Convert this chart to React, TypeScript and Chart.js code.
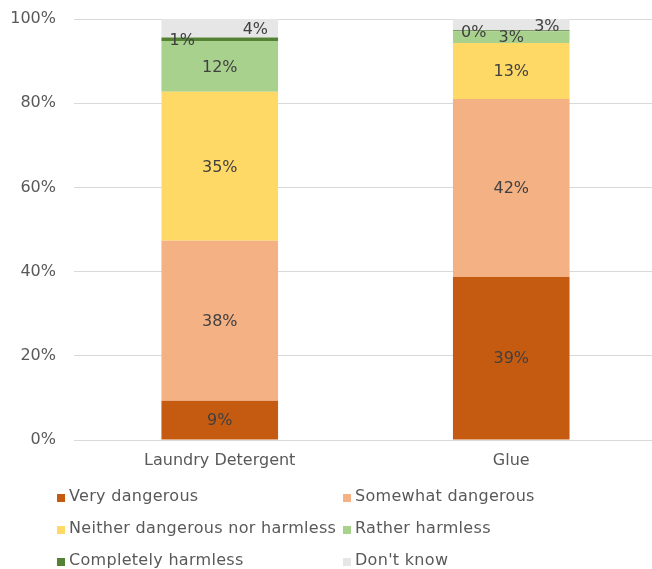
import React, { useEffect, useRef } from "react";
import { Chart, registerables } from "chart.js";

Chart.register(...registerables);

const categories = ["Laundry Detergent", "Glue"];
const seriesNames = [
  "Very dangerous",
  "Somewhat dangerous",
  "Neither dangerous nor harmless",
  "Rather harmless",
  "Completely harmless",
  "Don't know",
];
const veryDangerous = [9.3, 38.7];
const somewhatDangerous = [38.0, 42.3];
const neitherDangerousNorHarmless = [35.4, 13.3];
const ratherHarmless = [12.1, 2.8];
const completelyHarmless = [0.8, 0.2];
const dontKnow = [4.4, 2.7];
const yTickValues = [0, 20, 40, 60, 80, 100];

const seriesColors = ["#C55A11", "#F4B183", "#FFD966", "#A9D18E", "#548235", "#E7E6E6"];
const labelAlign = ["center", "center", "center", "center", "left", "right"];

const FONT = "'DejaVu Sans', Verdana, sans-serif";

const labelPlugin = {
  id: "segmentLabels",
  afterDatasetsDraw(chart: any) {
    const ctx = chart.ctx;
    ctx.save();
    ctx.font = `16px ${FONT}`;
    ctx.fillStyle = "#404040";
    ctx.textBaseline = "middle";
    chart.data.datasets.forEach((ds: any, di: number) => {
      const meta = chart.getDatasetMeta(di);
      meta.data.forEach((bar: any, i: number) => {
        const v = ds.data[i];
        const text = Math.round(v) + "%";
        const props = bar.getProps(["x", "y", "base", "width"], true);
        const align = labelAlign[di];
        const cy = (props.y + props.base) / 2 + (align === "center" ? 1 : 2);
        let x = props.x;
        if (align === "left") {
          ctx.textAlign = "left";
          x = props.x - props.width / 2 + 8;
        } else if (align === "right") {
          ctx.textAlign = "right";
          x = props.x + props.width / 2 - 10;
        } else {
          ctx.textAlign = "center";
        }
        ctx.fillText(text, x, cy);
      });
    });
    ctx.restore();
  },
};

const legendPlugin = {
  id: "gridLegend",
  afterDraw(chart: any) {
    const ctx = chart.ctx;
    ctx.save();
    ctx.font = `16px ${FONT}`;
    try {
      ctx.letterSpacing = "0.3px";
    } catch (e) {}
    ctx.textBaseline = "middle";
    ctx.textAlign = "left";
    const colX = [57, 343];
    const rowY = [497, 529, 561];
    seriesNames.forEach((name, i) => {
      const col = i % 2;
      const row = Math.floor(i / 2);
      const x = colX[col];
      const y = rowY[row];
      ctx.fillStyle = seriesColors[i];
      ctx.fillRect(x, y - 3, 8, 8);
      ctx.fillStyle = "#595959";
      ctx.fillText(name, x + 12, y);
    });
    ctx.restore();
  },
};

export default function App() {
  const ref = useRef<HTMLCanvasElement | null>(null);

  useEffect(() => {
    if (!ref.current) return;
    const seriesData = [
      veryDangerous,
      somewhatDangerous,
      neitherDangerousNorHarmless,
      ratherHarmless,
      completelyHarmless,
      dontKnow,
    ];
    const chart = new Chart(ref.current, {
      type: "bar",
      data: {
        labels: categories,
        datasets: seriesNames.map((name, i) => ({
          label: name,
          data: seriesData[i],
          backgroundColor: seriesColors[i],
          borderWidth: 0,
          categoryPercentage: 1,
          barPercentage: 0.4,
        })),
      },
      options: {
        animation: false,
        responsive: false,
        devicePixelRatio: 1,
        layout: { padding: { top: 19, left: 0, right: 1, bottom: 89 } },
        plugins: {
          legend: { display: false },
          tooltip: { enabled: false },
        },
        scales: {
          x: {
            stacked: true,
            grid: { display: false, drawTicks: false },
            border: { display: false },
            ticks: {
              padding: 11,
              color: "#595959",
              font: { family: FONT, size: 16 },
            },
            afterFit: (scale: any) => {
              scale.height = 40;
              scale.paddingLeft = 0;
              scale.paddingRight = 0;
            },
          },
          y: {
            stacked: true,
            min: 0,
            max: 100,
            afterBuildTicks: (scale: any) => {
              scale.ticks = yTickValues.map((v) => ({ value: v }));
            },
            grid: { color: "#D9D9D9", drawTicks: false, lineWidth: 1 },
            border: { display: false },
            ticks: {
              padding: 18,
              color: "#595959",
              font: { family: FONT, size: 16 },
              callback: (v: any) => v + "%",
            },
            afterFit: (scale: any) => {
              scale.width = 74;
              scale.paddingTop = 0;
              scale.paddingBottom = 0;
            },
          },
        },
      },
      plugins: [labelPlugin, legendPlugin],
    });
    return () => chart.destroy();
  }, []);

  return (
    <div style={{ position: "fixed", left: 0, top: 0, width: 652, height: 569, overflow: "hidden", background: "#fff" }}>
      <canvas ref={ref} width={658} height={569} style={{ display: "block" }} />
    </div>
  );
}
